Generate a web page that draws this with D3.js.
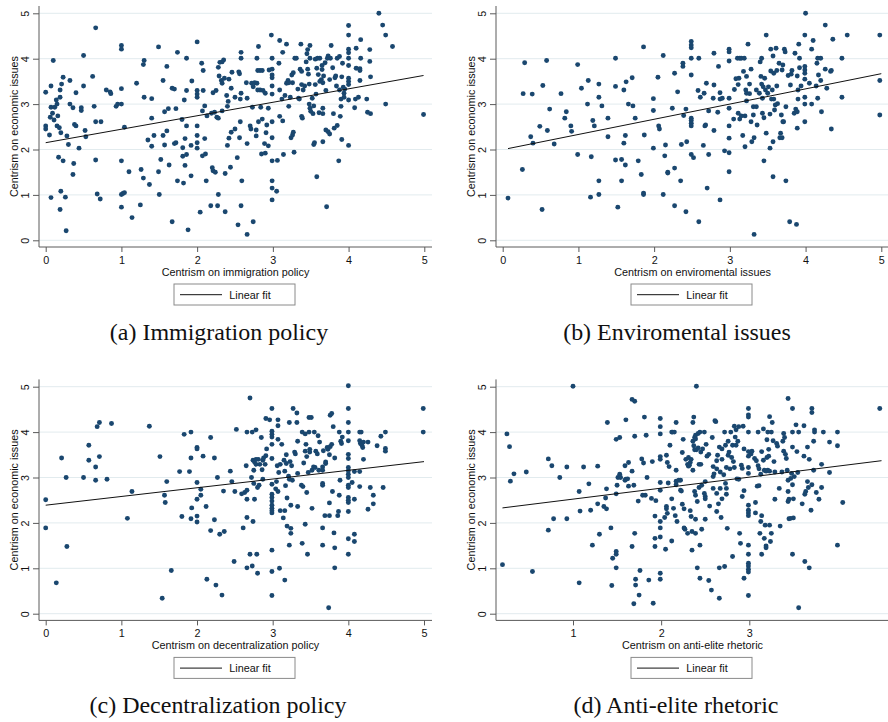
<!DOCTYPE html>
<html><head><meta charset="utf-8">
<script src="https://cdn.jsdelivr.net/npm/d3@7"></script>
<style>
body{margin:0;background:#fff}
svg text{font-family:"Liberation Sans",Arial,Helvetica,sans-serif;fill:#111}
</style>
</head><body>
<svg id="chart" width="888" height="722"></svg>
<script>
// ---------------- DATA ----------------
const yTicks=[0,1,2,3,4,5];
const xTicksFull=[0,1,2,3,4,5];
const xTicksElite=[1,2,3];
const yTitle="Centrism on economic issues";
const xTitles=["Centrism on immigration policy","Centrism on enviromental issues","Centrism on decentralization policy","Centrism on anti-elite rhetoric"];
const captions=["(a) Immigration policy","(b) Enviromental issues","(c) Decentralization policy","(d) Anti-elite rhetoric"];
const legendLabel="Linear fit";

// fitted-line endpoints [x,y]
const fitImmig=[[0.0,2.15],[4.99,3.63]];
const fitEnv=[[0.07,2.02],[5.0,3.67]];
const fitDecent=[[0.0,2.39],[5.0,3.35]];
const fitElite=[[0.2,2.33],[4.5,3.37]];

const ptsImmig=[[0,3.26],[0,2.52],[0,2.45],[0.05,2.32],[0.07,0.94],[0.07,3.40],[0.07,2.93],[0.06,2.71],[0.09,2.80],[0.1,3.96],[0.11,2.65],[0.12,2.93],[0.14,3.09],[0.15,3.0],[0.16,2.74],[0.15,2.52],[0.17,1.83],[0.18,2.48],[0.19,3.15],[0.19,3.31],[0.2,2.37],[0.21,3.44],[0.2,1.08],[0.19,0.68],[0.23,3.59],[0.23,1.75],[0.26,0.95],[0.27,0.21],[0.28,2.30],[0.3,2.11],[0.32,3.52],[0.32,3.0],[0.36,2.92],[0.36,1.45],[0.37,1.69],[0.38,2.55],[0.4,2.52],[0.4,3.25],[0.44,2.03],[0.47,2.92],[0.47,2.86],[0.5,4.07],[0.5,3.40],[0.52,2.42],[0.53,2.28],[0.62,3.61],[0.64,2.95],[0.66,4.68],[0.66,2.61],[0.66,1.77],[0.68,1.02],[0.72,0.91],[0.73,2.61],[0.8,3.31],[0.85,3.27],[0.86,3.23],[0.93,2.95],[0.95,3.0],[1,4.29],[1,4.21],[1,3.34],[1,3.0],[1,1.75],[1,1.01],[1.02,1.03],[1.04,1.05],[1,0.73],[1.04,2.49],[1.1,1.51],[1.14,0.5],[1.2,3.46],[1.25,0.78],[1.26,1.56],[1.29,3.87],[1.3,3.96],[1.3,3.15],[1.29,1.37],[1.35,2.21],[1.37,1.23],[1.4,3.12],[1.4,2.69],[1.4,2.07],[1.43,2.31],[1.49,4.26],[1.49,1.51],[1.5,1.01],[1.52,1.78],[1.55,3.52],[1.55,2.31],[1.57,2.83],[1.57,2.10],[1.6,3.83],[1.6,2.41],[1.62,2.90],[1.63,1.66],[1.67,0.41],[1.67,3.35],[1.7,3.33],[1.7,2.13],[1.72,2.15],[1.72,2.90],[1.74,4.14],[1.74,1.31],[1.8,2.66],[1.81,2.04],[1.81,1.85],[1.82,1.26],[1.83,3.09],[1.84,2.24],[1.84,1.65],[1.86,4.01],[1.86,3.30],[1.86,2.52],[1.86,1.89],[1.88,0.23],[1.92,1.42],[1.93,3.51],[1.92,2.09],[2,4.37],[2,3.30],[2,3.22],[2,3.15],[2,2.52],[2,2.31],[2,2.15],[2,2.03],[2.04,0.62],[2.06,3.90],[2.08,3.74],[2.08,3.30],[2.07,2.85],[2.07,1.86],[2.1,2.24],[2.1,2.96],[2.11,1.90],[2.12,1.31],[2.13,2.74],[2.18,0.76],[2.19,2.80],[2.2,1.60],[2.21,1.53],[2.24,1.50],[2.21,3.25],[2.25,3.30],[2.23,2.82],[2.26,2.71],[2.28,3.81],[2.28,2.69],[2.28,1.01],[2.27,0.76],[2.29,3.62],[2.3,3.92],[2.33,3.93],[2.33,2.85],[2.32,3.52],[2.35,3.97],[2.33,3.46],[2.36,3.57],[2.37,1.47],[2.37,0.63],[2.39,3.19],[2.4,2.09],[2.4,2.95],[2.42,2.25],[2.41,3.06],[2.42,3.55],[2.44,1.61],[2.45,2.38],[2.46,3.70],[2.45,3.35],[2.5,3.15],[2.5,2.45],[2.53,1.82],[2.54,0.34],[2.55,3.71],[2.56,3.67],[2.56,2.26],[2.57,3.11],[2.57,2.61],[2.58,3.24],[2.58,0.76],[2.58,4.14],[2.59,1.31],[2.58,4.01],[2.66,3.13],[2.66,0.13],[2.66,2.13],[2.65,3.47],[2.7,2.52],[2.71,2.45],[2.72,3.46],[2.73,2.93],[2.74,3.38],[2.74,0.41],[2.76,3.47],[2.78,2.43],[2.78,2.30],[2.79,4.01],[2.79,3.46],[2.8,3.31],[2.8,3.74],[2.81,4.27],[2.81,2.61],[2.83,3.74],[2.83,3.31],[2.84,2.93],[2.85,1.90],[2.86,2.67],[2.86,3.74],[2.87,3.30],[2.89,2.13],[2.9,3.24],[2.9,1.92],[2.91,2.37],[2.92,2.54],[2.94,2.08],[2.94,2.91],[2.95,3.75],[2.98,4.52],[2.99,4.01],[2.99,3.77],[2.99,3.64],[2.99,3.58],[2.99,3.40],[2.99,3.22],[2.99,2.61],[2.99,2.26],[2.99,1.75],[2.99,1.31],[2.99,1.15],[2.99,0.89],[3.05,1.08],[3.06,1.76],[3.08,3.90],[3.09,4.40],[3.09,3.31],[3.09,2.73],[3.12,3.11],[3.13,4.14],[3.13,2.63],[3.14,1.89],[3.16,3.19],[3.18,4.32],[3.18,3.46],[3.2,3.52],[3.21,3.47],[3.21,2.95],[3.23,3.15],[3.24,2.26],[3.26,2.32],[3.27,2.38],[3.28,1.94],[3.25,3.64],[3.27,3.69],[3.26,3.47],[3.29,4.01],[3.31,4.01],[3.33,3.33],[3.34,3.13],[3.35,3.11],[3.36,3.77],[3.37,4.32],[3.38,2.73],[3.39,2.69],[3.38,3.72],[3.38,3.43],[3.4,3.31],[3.42,3.40],[3.44,3.93],[3.45,4.11],[3.46,4.2],[3.46,3.77],[3.47,3.66],[3.48,3.44],[3.49,4.29],[3.49,4.01],[3.48,3.0],[3.49,2.91],[3.5,2.84],[3.52,3.13],[3.53,2.79],[3.54,2.11],[3.55,2.15],[3.54,2.96],[3.56,3.99],[3.56,3.43],[3.57,3.22],[3.58,1.40],[3.58,3.79],[3.59,4.01],[3.6,3.65],[3.61,2.81],[3.62,3.50],[3.62,4.01],[3.64,3.54],[3.65,3.76],[3.65,3.85],[3.66,3.47],[3.66,2.79],[3.66,2.17],[3.66,2.91],[3.67,3.62],[3.69,3.91],[3.7,3.30],[3.7,2.43],[3.71,0.74],[3.72,4.01],[3.73,4.06],[3.73,2.39],[3.75,2.34],[3.75,3.54],[3.76,4.01],[3.77,4.29],[3.79,3.80],[3.8,2.79],[3.81,2.47],[3.82,3.58],[3.83,3.62],[3.84,3.40],[3.85,2.53],[3.85,4.01],[3.87,1.75],[3.88,4.05],[3.88,3.31],[3.89,2.73],[3.9,3.11],[3.9,2.95],[3.91,3.60],[3.91,2.22],[3.92,3.90],[3.93,3.37],[3.94,3.24],[3.94,3.15],[3.95,3.33],[4,4.73],[4,4.52],[4,4.21],[4,4.13],[4,4.01],[4,3.85],[4,3.57],[4,3.50],[4,3.43],[4,3.09],[4,2.09],[4.08,2.92],[4.09,3.11],[4.1,4.23],[4.1,3.79],[4.13,3.15],[4.15,3.78],[4.15,3.52],[4.15,3.74],[4.16,4.42],[4.16,4.01],[4.24,3.11],[4.25,2.82],[4.28,4.2],[4.28,3.94],[4.29,3.60],[4.29,2.79],[4.4,5.0],[4.45,4.74],[4.49,4.52],[4.49,3.0],[4.58,4.27],[4.99,2.77]];

const ptsEnv=[[0.07,0.93],[0.26,1.56],[0.29,3.91],[0.27,3.23],[0.37,2.28],[0.39,3.22],[0.40,2.14],[0.49,2.51],[0.52,0.68],[0.53,3.41],[0.58,3.96],[0.59,2.42],[0.62,2.89],[0.68,2.12],[0.77,3.23],[0.82,2.69],[0.84,2.83],[0.90,2.52],[0.91,2.40],[0.99,3.87],[0.99,1.89],[1.04,3.35],[1.12,3.0],[1.13,3.52],[1.16,0.95],[1.17,1.84],[1.19,2.64],[1.21,2.52],[1.27,3.44],[1.27,3.15],[1.27,1.31],[1.27,1.01],[1.31,2.96],[1.39,2.69],[1.39,2.28],[1.49,4.01],[1.49,3.39],[1.49,1.77],[1.52,0.73],[1.57,1.78],[1.57,1.31],[1.60,3.31],[1.60,2.14],[1.62,2.31],[1.62,1.66],[1.63,3.49],[1.66,3.0],[1.71,3.58],[1.72,2.96],[1.75,2.69],[1.79,1.75],[1.83,1.45],[1.86,4.26],[1.86,1.04],[1.86,1.01],[1.87,2.32],[1.99,3.12],[1.99,2.86],[1.99,2.03],[2.05,3.59],[2.06,2.52],[2.07,2.45],[2.12,1.01],[2.12,4.07],[2.15,2.10],[2.14,1.86],[2.18,1.50],[2.18,1.48],[2.24,2.91],[2.27,3.68],[2.27,1.59],[2.27,0.76],[2.31,3.27],[2.35,1.31],[2.36,2.11],[2.38,3.90],[2.38,3.83],[2.39,2.75],[2.42,2.89],[2.43,2.17],[2.42,0.63],[2.49,4.38],[2.49,4.30],[2.49,4.24],[2.49,4.01],[2.49,3.64],[2.49,2.69],[2.49,2.64],[2.49,2.58],[2.49,2.52],[2.49,1.89],[2.52,1.82],[2.59,4.01],[2.58,3.30],[2.59,0.41],[2.61,3.15],[2.65,2.09],[2.66,3.24],[2.67,2.52],[2.68,2.54],[2.69,3.46],[2.70,1.15],[2.72,2.85],[2.72,1.89],[2.78,3.13],[2.79,2.42],[2.79,3.42],[2.79,4.12],[2.84,2.82],[2.85,3.83],[2.87,3.25],[2.87,3.11],[2.87,0.89],[2.90,3.13],[2.93,1.97],[2.99,4.21],[2.99,4.15],[2.99,3.95],[2.99,3.13],[2.99,2.91],[2.99,2.52],[2.99,2.25],[2.99,1.93],[2.99,1.51],[3.05,2.67],[3.06,3.32],[3.08,3.56],[3.10,4.01],[3.11,3.43],[3.11,2.80],[3.12,3.57],[3.13,4.01],[3.15,4.01],[3.13,2.67],[3.15,2.74],[3.17,2.31],[3.18,3.72],[3.19,4.01],[3.20,2.06],[3.20,2.74],[3.21,3.31],[3.22,3.61],[3.22,3.24],[3.22,3.07],[3.24,4.32],[3.26,3.23],[3.26,3.44],[3.28,3.77],[3.28,2.61],[3.29,2.17],[3.31,2.76],[3.31,2.94],[3.32,2.26],[3.32,0.13],[3.35,2.94],[3.35,3.31],[3.36,2.54],[3.39,3.24],[3.40,3.93],[3.41,3.61],[3.42,4.01],[3.42,3.44],[3.43,3.13],[3.43,2.80],[3.44,3.38],[3.45,1.75],[3.45,2.70],[3.46,3.57],[3.47,3.31],[3.48,4.52],[3.48,2.36],[3.50,3.24],[3.51,3.38],[3.53,2.03],[3.53,2.78],[3.54,4.21],[3.54,3.73],[3.55,3.11],[3.56,3.31],[3.57,2.17],[3.57,1.40],[3.57,4.06],[3.58,3.68],[3.58,3.11],[3.59,2.87],[3.60,2.98],[3.61,4.23],[3.62,3.40],[3.62,3.74],[3.63,3.01],[3.65,3.90],[3.66,2.26],[3.67,2.36],[3.68,2.76],[3.69,3.75],[3.69,2.26],[3.70,3.86],[3.70,2.61],[3.71,2.61],[3.72,4.21],[3.73,4.15],[3.74,2.94],[3.74,1.31],[3.77,3.63],[3.79,0.41],[3.80,3.42],[3.81,3.66],[3.82,3.74],[3.85,2.80],[3.86,4.12],[3.87,2.89],[3.88,0.35],[3.89,2.47],[3.89,2.83],[3.89,3.62],[3.90,3.31],[3.90,3.11],[3.91,4.32],[3.92,4.01],[3.92,3.80],[3.94,3.40],[3.99,4.52],[3.99,3.83],[3.99,3.75],[3.99,3.68],[3.99,3.55],[3.99,3.15],[3.99,3.0],[3.99,2.61],[4.0,5.0],[4.05,3.46],[4.08,4.21],[4.08,3.0],[4.10,4.40],[4.14,3.40],[4.15,3.90],[4.16,3.13],[4.16,4.01],[4.17,3.64],[4.20,4.01],[4.20,3.52],[4.21,2.83],[4.26,4.74],[4.26,3.77],[4.28,3.35],[4.33,3.72],[4.34,3.74],[4.34,2.45],[4.36,4.43],[4.48,4.01],[4.48,3.15],[4.55,4.52],[4.98,4.52],[4.98,3.52],[4.98,2.76]];

const ptsDecent=[[0,2.51],[0,1.89],[0.14,0.68],[0.21,3.43],[0.27,3.0],[0.28,1.48],[0.50,3.0],[0.57,3.71],[0.57,3.38],[0.66,3.23],[0.66,2.94],[0.68,4.12],[0.71,4.21],[0.71,3.46],[0.81,2.96],[0.87,4.19],[1.08,2.10],[1.14,2.69],[1.37,4.13],[1.51,3.46],[1.54,0.34],[1.57,2.61],[1.58,2.45],[1.6,2.91],[1.66,0.95],[1.77,3.13],[1.8,2.14],[1.83,3.95],[1.90,3.13],[1.92,3.43],[1.92,4.0],[1.92,2.09],[1.93,2.33],[2.0,3.66],[2.0,3.63],[2.0,2.89],[2.0,2.52],[2.0,2.15],[2.0,2.02],[2.05,2.74],[2.05,2.61],[2.08,3.47],[2.12,2.36],[2.13,0.76],[2.18,1.83],[2.18,3.88],[2.23,3.43],[2.23,2.07],[2.25,0.63],[2.27,3.0],[2.3,1.75],[2.33,0.41],[2.35,2.70],[2.36,1.81],[2.44,3.14],[2.46,2.91],[2.49,1.15],[2.5,2.69],[2.52,4.06],[2.59,2.64],[2.61,1.89],[2.63,2.67],[2.65,3.26],[2.66,4.0],[2.66,1.01],[2.66,2.12],[2.66,2.52],[2.66,2.72],[2.7,4.75],[2.70,1.31],[2.72,3.0],[2.73,4.0],[2.73,1.05],[2.74,2.03],[2.74,3.38],[2.75,2.87],[2.75,3.16],[2.76,2.52],[2.76,3.34],[2.78,4.05],[2.78,3.40],[2.78,3.29],[2.79,1.31],[2.80,0.89],[2.80,2.78],[2.81,3.40],[2.82,2.83],[2.83,3.29],[2.85,3.88],[2.86,3.17],[2.87,2.96],[2.87,3.38],[2.88,3.43],[2.90,3.29],[2.91,3.48],[2.91,4.30],[2.92,3.63],[2.96,4.27],[2.99,4.52],[2.99,4.02],[2.99,3.95],[2.99,3.89],[2.99,3.73],[2.99,3.42],[2.99,2.85],[2.99,2.63],[2.99,2.56],[2.99,2.48],[2.99,2.39],[2.99,2.32],[2.99,2.27],[2.99,2.22],[2.99,1.40],[2.99,0.93],[2.99,0.40],[3.04,2.75],[3.05,2.91],[3.06,3.26],[3.07,4.27],[3.07,4.14],[3.07,3.84],[3.07,2.69],[3.08,3.11],[3.09,1.0],[3.10,2.27],[3.10,3.29],[3.12,3.73],[3.14,2.11],[3.15,3.38],[3.16,3.14],[3.16,0.74],[3.16,2.27],[3.17,2.82],[3.18,3.31],[3.18,3.50],[3.19,2.55],[3.19,1.93],[3.21,3.03],[3.22,4.21],[3.22,1.51],[3.22,2.96],[3.23,3.35],[3.24,1.88],[3.24,1.77],[3.24,2.39],[3.25,3.26],[3.26,2.94],[3.27,4.52],[3.29,3.56],[3.30,3.52],[3.32,4.42],[3.32,4.21],[3.33,3.80],[3.33,2.36],[3.33,3.09],[3.39,1.55],[3.38,2.83],[3.39,4.0],[3.40,2.80],[3.41,3.32],[3.43,1.97],[3.43,3.96],[3.43,3.58],[3.44,3.73],[3.45,3.46],[3.45,2.67],[3.46,1.31],[3.47,3.11],[3.48,4.0],[3.48,4.32],[3.49,3.62],[3.49,3.56],[3.51,4.32],[3.52,3.16],[3.52,2.32],[3.54,3.23],[3.55,4.0],[3.56,3.22],[3.57,3.58],[3.59,3.52],[3.60,3.92],[3.61,3.16],[3.62,3.78],[3.66,3.23],[3.66,3.16],[3.66,2.87],[3.66,2.83],[3.66,1.89],[3.66,1.51],[3.67,3.59],[3.69,2.16],[3.70,3.31],[3.70,3.34],[3.72,3.66],[3.73,3.62],[3.74,0.13],[3.75,2.44],[3.75,2.16],[3.75,3.50],[3.76,4.37],[3.76,3.68],[3.78,4.41],[3.78,3.73],[3.79,2.69],[3.80,4.12],[3.81,1.78],[3.82,1.01],[3.82,3.43],[3.82,1.45],[3.86,2.16],[3.87,2.25],[3.88,2.61],[3.88,4.0],[3.89,2.94],[3.90,3.80],[3.91,3.75],[3.92,3.89],[4.0,5.02],[4.0,4.52],[4.0,4.21],[4.0,4.0],[4.0,3.81],[4.0,3.51],[4.0,3.42],[4.0,3.22],[4.0,3.15],[4.0,3.07],[4.0,3.0],[4.0,2.83],[4.0,2.78],[4.0,2.56],[4.0,2.50],[4.0,2.45],[4.0,2.25],[4.0,1.65],[4.0,1.31],[4.05,2.89],[4.08,3.13],[4.08,2.52],[4.08,1.75],[4.08,1.59],[4.15,3.13],[4.15,2.80],[4.15,4.0],[4.15,3.81],[4.16,3.75],[4.17,4.0],[4.18,3.71],[4.19,3.66],[4.20,3.40],[4.20,3.78],[4.26,3.78],[4.26,2.30],[4.29,2.78],[4.33,2.61],[4.33,2.42],[4.38,3.70],[4.43,3.91],[4.46,2.78],[4.49,4.0],[4.49,3.64],[4.49,3.58],[4.99,4.52],[4.99,4.0]];

const ptsElite=[[0.2,1.08],[0.25,3.96],[0.28,3.68],[0.29,2.92],[0.33,3.08],[0.47,3.12],[0.54,0.93],[0.72,3.41],[0.72,1.84],[0.76,3.26],[0.78,2.09],[0.85,3.0],[0.93,3.23],[0.93,2.09],[1.0,5.01],[1.07,0.68],[1.07,2.69],[1.08,2.26],[1.12,3.23],[1.18,2.86],[1.20,2.28],[1.22,1.51],[1.28,3.25],[1.28,2.42],[1.30,1.75],[1.35,2.36],[1.38,2.31],[1.38,2.75],[1.37,2.55],[1.39,4.21],[1.43,1.89],[1.45,1.22],[1.44,0.62],[1.49,1.37],[1.49,1.31],[1.49,1.01],[1.49,2.64],[1.50,2.83],[1.49,3.84],[1.51,3.0],[1.53,3.07],[1.53,3.88],[1.54,3.0],[1.59,3.26],[1.59,2.94],[1.60,4.27],[1.60,2.96],[1.62,2.97],[1.63,2.81],[1.63,3.33],[1.67,3.14],[1.67,1.48],[1.67,4.72],[1.69,2.83],[1.70,3.91],[1.70,4.68],[1.70,1.77],[1.71,0.76],[1.71,0.63],[1.69,0.22],[1.74,2.48],[1.75,0.41],[1.76,0.95],[1.78,3.41],[1.79,2.61],[1.80,3.32],[1.81,4.33],[1.82,2.61],[1.83,3.93],[1.84,3.0],[1.86,0.74],[1.89,2.54],[1.90,3.35],[1.91,0.23],[1.93,1.66],[1.93,1.48],[1.93,2.15],[1.94,2.49],[1.99,4.30],[1.99,4.12],[1.99,3.96],[1.99,3.46],[1.99,3.40],[1.99,2.89],[1.99,2.72],[1.99,2.03],[1.99,1.89],[1.99,1.69],[1.99,0.89],[1.99,0.76],[2.04,2.12],[2.05,1.42],[2.06,3.49],[2.06,2.31],[2.06,2.36],[2.07,2.21],[2.07,3.33],[2.08,2.88],[2.09,3.24],[2.10,3.71],[2.12,2.53],[2.12,1.60],[2.12,4.0],[2.13,4.0],[2.14,2.32],[2.15,4.0],[2.16,2.16],[2.17,3.16],[2.17,4.21],[2.17,2.84],[2.17,2.92],[2.18,2.03],[2.20,2.94],[2.22,2.94],[2.22,2.72],[2.23,2.70],[2.24,3.55],[2.25,3.84],[2.24,2.41],[2.26,1.89],[2.26,2.31],[2.27,1.86],[2.28,3.40],[2.30,1.77],[2.30,3.29],[2.31,3.25],[2.31,3.44],[2.32,3.27],[2.33,3.33],[2.33,2.27],[2.34,2.14],[2.34,3.40],[2.35,1.40],[2.35,1.81],[2.36,4.21],[2.36,3.80],[2.36,3.16],[2.37,4.33],[2.37,3.70],[2.38,2.69],[2.38,3.88],[2.38,3.61],[2.39,3.85],[2.39,2.61],[2.39,3.93],[2.39,2.08],[2.39,1.77],[2.40,5.01],[2.40,3.61],[2.41,1.01],[2.41,2.47],[2.42,3.97],[2.42,3.65],[2.43,2.78],[2.43,3.29],[2.44,1.51],[2.44,0.78],[2.44,4.0],[2.45,3.56],[2.45,3.29],[2.46,1.86],[2.46,2.83],[2.47,3.63],[2.49,4.0],[2.49,2.65],[2.50,2.58],[2.50,2.53],[2.50,2.08],[2.50,2.91],[2.51,3.73],[2.52,3.47],[2.54,0.73],[2.54,3.51],[2.55,2.37],[2.57,0.52],[2.58,3.88],[2.59,3.24],[2.59,3.02],[2.59,2.76],[2.60,3.08],[2.61,4.25],[2.62,4.23],[2.63,3.37],[2.63,3.19],[2.63,2.65],[2.63,2.25],[2.64,3.49],[2.65,2.42],[2.66,0.34],[2.66,1.01],[2.66,3.67],[2.67,2.76],[2.67,3.12],[2.68,2.12],[2.69,3.63],[2.69,2.53],[2.69,3.40],[2.71,3.06],[2.72,1.04],[2.72,4.0],[2.73,2.87],[2.73,3.71],[2.74,2.76],[2.74,2.63],[2.74,3.22],[2.75,1.88],[2.76,3.80],[2.76,3.49],[2.77,3.56],[2.78,3.19],[2.79,4.0],[2.80,3.44],[2.81,1.26],[2.81,3.71],[2.82,3.35],[2.83,4.13],[2.83,3.22],[2.84,3.89],[2.85,4.05],[2.85,3.71],[2.86,2.97],[2.87,3.80],[2.88,4.12],[2.88,2.96],[2.89,1.77],[2.90,1.55],[2.91,3.27],[2.92,3.20],[2.92,2.58],[2.93,4.13],[2.94,0.78],[2.94,2.71],[2.94,3.63],[2.99,4.52],[2.99,4.38],[2.99,4.33],[2.99,4.0],[2.99,3.57],[2.99,3.47],[2.99,3.22],[2.99,3.09],[2.99,2.39],[2.99,2.28],[2.99,2.22],[2.99,2.16],[2.99,1.51],[2.99,1.31],[2.99,1.11],[2.99,1.05],[2.99,0.98],[2.99,0.92],[2.99,0.40],[3.02,3.52],[3.03,3.58],[3.06,3.42],[3.07,2.45],[3.07,2.22],[3.08,3.37],[3.09,2.81],[3.10,4.0],[3.10,3.26],[3.11,3.19],[3.11,2.82],[3.12,1.77],[3.13,2.03],[3.13,3.07],[3.14,3.57],[3.14,1.31],[3.14,2.16],[3.16,4.07],[3.16,3.38],[3.17,3.16],[3.17,1.66],[3.18,1.95],[3.19,3.14],[3.19,1.49],[3.19,1.45],[3.20,3.44],[3.20,3.83],[3.21,4.0],[3.21,3.16],[3.22,3.62],[3.22,3.47],[3.23,4.34],[3.23,3.14],[3.23,1.95],[3.24,1.59],[3.25,4.0],[3.25,1.77],[3.26,4.21],[3.27,3.81],[3.28,3.35],[3.29,2.52],[3.29,3.12],[3.31,3.75],[3.32,3.69],[3.34,2.76],[3.35,1.93],[3.37,3.12],[3.38,3.80],[3.39,3.58],[3.39,3.97],[3.40,3.88],[3.41,3.51],[3.42,3.42],[3.43,3.16],[3.44,2.69],[3.44,4.74],[3.44,2.94],[3.44,2.47],[3.45,2.09],[3.45,2.52],[3.47,2.98],[3.47,2.10],[3.48,3.09],[3.49,4.52],[3.49,4.0],[3.49,3.67],[3.49,2.84],[3.49,1.31],[3.50,2.53],[3.50,2.11],[3.51,3.02],[3.53,4.16],[3.54,3.57],[3.55,3.11],[3.56,4.0],[3.56,0.13],[3.60,2.42],[3.62,4.14],[3.62,3.47],[3.63,1.15],[3.63,2.63],[3.64,2.69],[3.66,2.91],[3.66,3.67],[3.67,2.78],[3.68,3.40],[3.68,1.01],[3.70,2.28],[3.71,4.52],[3.71,4.43],[3.71,2.84],[3.73,3.80],[3.73,3.16],[3.74,4.05],[3.74,4.0],[3.76,2.67],[3.79,2.52],[3.82,3.29],[3.82,2.78],[3.84,4.0],[3.91,3.78],[3.91,3.11],[4.00,4.0],[4.00,3.70],[4.00,1.51],[4.06,2.45],[4.48,4.52]];

// ---------------- LAYOUT ----------------
const svg=d3.select("#chart");
const navy="#1a476f";
const axisCol="#5a5a5a";
const L={axisX:39, axisB:247, top:6, right:432, y0:240.3, y5:13.3, x0:45.7, x5:424.3};
const panels=[
  {pts:ptsImmig, fit:fitImmig, ticks:xTicksFull, dom:[0,5], rng:[L.x0,L.x5], dx:0, dy:0, xt:xTitles[0], cap:captions[0], capX:219, capW:218},
  {pts:ptsEnv, fit:fitEnv, ticks:xTicksFull, dom:[0,5], rng:[L.x0,L.x5], dx:457, dy:0, xt:xTitles[1], cap:captions[1], capX:677, capW:225},
  {pts:ptsDecent, fit:fitDecent, ticks:xTicksFull, dom:[0,5], rng:[L.x0,L.x5-0.3], dx:0, dy:373.4, xt:xTitles[2], cap:captions[2], capX:218, capW:257},
  {pts:ptsElite, fit:fitElite, ticks:xTicksElite, dom:[1,3], rng:[116,292.3], dx:457, dy:373.4, xt:xTitles[3], cap:captions[3], capX:676, capW:208}
];

const y=d3.scaleLinear().domain([0,5]).range([L.y0,L.y5]);

panels.forEach(p=>{
  const g=svg.append("g").attr("transform",`translate(${p.dx},${p.dy})`);
  const x=d3.scaleLinear().domain(p.dom).range(p.rng);
  // gridlines
  g.append("g").selectAll("line").data(yTicks).join("line")
    .attr("x1",L.axisX).attr("x2",L.right).attr("y1",d=>y(d)).attr("y2",d=>y(d))
    .attr("stroke","#e2ebee").attr("stroke-width",1);
  // points
  g.append("g").selectAll("circle").data(p.pts).join("circle")
    .attr("cx",d=>x(d[0])).attr("cy",d=>y(d[1])).attr("r",2.45).attr("fill",navy);
  // fit line
  g.append("path").datum(p.fit).attr("d",d3.line().x(d=>x(d[0])).y(d=>y(d[1])))
    .attr("stroke","#111").attr("stroke-width",1).attr("fill","none");
  // y axis
  const ya=g.append("g").attr("transform",`translate(${L.axisX},0)`)
    .call(d3.axisLeft(y).tickValues(yTicks).tickSize(6).tickFormat(d3.format("d")));
  ya.select(".domain").remove();
  ya.selectAll(".tick line").attr("stroke",axisCol);
  ya.selectAll(".tick text").attr("x",0).attr("dy",0).attr("text-anchor","middle")
    .attr("transform","translate(-10,0) rotate(-90)").style("font-size","10.8px")
    .style("font-family","'Liberation Sans',Arial,sans-serif").attr("fill","#111");
  // x axis
  const xa=g.append("g").attr("transform",`translate(0,${L.axisB})`)
    .call(d3.axisBottom(x).tickValues(p.ticks).tickSize(5).tickFormat(d3.format("d")));
  xa.select(".domain").remove();
  xa.selectAll(".tick line").attr("stroke",axisCol);
  xa.selectAll(".tick text").attr("y",16.5).attr("dy",0).style("font-size","10.8px")
    .style("font-family","'Liberation Sans',Arial,sans-serif").attr("fill","#111");
  // axis lines
  g.append("line").attr("x1",L.axisX).attr("x2",L.axisX).attr("y1",L.top).attr("y2",L.axisB).attr("stroke",axisCol);
  g.append("line").attr("x1",L.axisX).attr("x2",L.right).attr("y1",L.axisB).attr("y2",L.axisB).attr("stroke",axisCol);
  // titles
  g.append("text").attr("transform",`translate(17.5,${(L.top+L.axisB)/2}) rotate(-90)`)
    .attr("text-anchor","middle").style("font-size","10.8px").text(yTitle);
  g.append("text").attr("x",(L.axisX+L.right)/2).attr("y",276).attr("text-anchor","middle")
    .style("font-size","10.8px").text(p.xt);
  // legend
  g.append("rect").attr("x",174).attr("y",284).attr("width",121).attr("height",21)
    .attr("fill","#fff").attr("stroke","#8a8a8a").attr("stroke-width",1);
  g.append("line").attr("x1",180).attr("x2",222).attr("y1",294.7).attr("y2",294.7).attr("stroke","#111").attr("stroke-width",1);
  g.append("text").attr("x",229.3).attr("y",299).style("font-size","10.8px").text(legendLabel);
});

// captions (serif), sized to match the reference widths
const capG=svg.append("g");
const capT=capG.selectAll("text").data(panels).join("text")
  .attr("x",d=>d.capX).attr("y",d=>d.dy+340).attr("text-anchor","middle")
  .style("font-family","'Liberation Serif','Times New Roman',serif").style("font-size","20px")
  .attr("fill","#111").text(d=>d.cap);
let ratio=0;
capT.each(function(d){ratio+=d.capW/this.getComputedTextLength();});
ratio/=panels.length;
capT.style("font-size",(20*ratio).toFixed(2)+"px");
</script>
</body></html>
